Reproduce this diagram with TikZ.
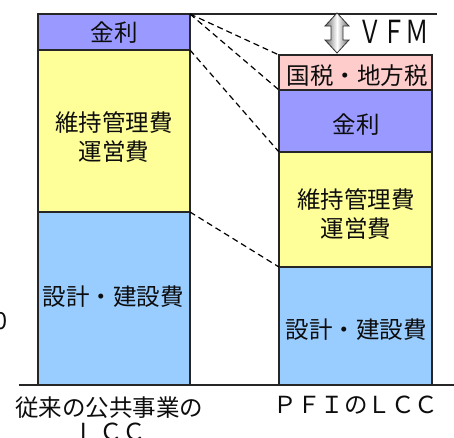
\documentclass[tikz,border=0pt]{standalone}
\usepackage{fontspec}
\setmainfont{Noto Sans CJK JP}
\begin{document}
\begin{tikzpicture}[x=1pt,y=-1pt,
  box/.style={draw=black!85,line width=1.3pt,inner sep=0pt,outer sep=0pt,anchor=north west},
  lbl/.style={font=\fontsize{23.5}{29}\selectfont,align=center,inner sep=0pt,text=black!95},
  dline/.style={draw=black,line width=1.2pt,dash pattern=on 6pt off 4pt},
  purp/.style={fill={rgb,255:red,153;green,153;blue,255}},
  yel/.style={fill={rgb,255:red,255;green,255;blue,153}},
  blu/.style={fill={rgb,255:red,153;green,204;blue,255}},
  pnk/.style={fill={rgb,255:red,255;green,204;blue,204}}]
\useasboundingbox (0,0) rectangle (454,437);
% left column
\node[box,purp,minimum width=152pt,minimum height=36pt] (L1) at (38,14) {};
\node[box,yel,minimum width=152pt,minimum height=162pt] (L2) at (38,50) {};
\node[box,blu,minimum width=152pt,minimum height=173pt] (L3) at (38,212) {};
% right column
\node[box,pnk,minimum width=153pt,minimum height=35pt] (R0) at (279,55) {};
\node[box,purp,minimum width=153pt,minimum height=62pt] (R1) at (279,90) {};
\node[box,yel,minimum width=153pt,minimum height=115pt] (R2) at (279,152) {};
\node[box,blu,minimum width=153pt,minimum height=118pt] (R3) at (279,267) {};
% labels
\node[lbl] (tL1) at (114,33) {金利};
\node[lbl] (tL2) at (114,137) {維持管理費\\運営費};
\node[lbl] (tL3) at (113,297) {設計・建設費};
\node[lbl] (tR0) at (357,76) {国税・地方税};
\node[lbl] (tR1) at (356,125) {金利};
\node[lbl] (tR2) at (356,214) {維持管理費\\運営費};
\node[lbl] (tR3) at (356,330) {設計・建設費};
\node[lbl] (vfm) at (394,32) {\scalebox{1}[1.35]{ＶＦＭ}};
\node[lbl] (bl1) at (109,408) {従来の公共事業の};
\node[lbl] (bl2) at (111,432) {ＬＣＣ};
\node[lbl] (br) at (356,405) {ＰＦＩのＬＣＣ};
\node[lbl] (zero) at (1,321) {0};
% lines
\coordinate (topR) at (437,14);
\coordinate (baseL) at (19,385);
\coordinate (baseR) at (454,385);
\draw[line width=1.2pt,black!85] (L1.north east) -- (topR);
\draw[line width=1.6pt,black!85] (baseL) -- (baseR);
\draw[dline] (L1.north east) -- (R0.north west);
\draw[dline] (L1.north east) -- (R1.north west);
\draw[dline] (L1.south east) -- (R1.south west);
\draw[dline] (L2.south east) -- (R2.south west);
% VFM arrow
\draw[draw=black!80,line width=0.8pt,left color=black!60,right color=black!60,middle color=white]
  (337,13) -- (349,26) -- (343,26) -- (343,40) -- (349,40) -- (337,53)
  -- (325,40) -- (331,40) -- (331,26) -- (325,26) -- cycle;
\end{tikzpicture}
\end{document}
